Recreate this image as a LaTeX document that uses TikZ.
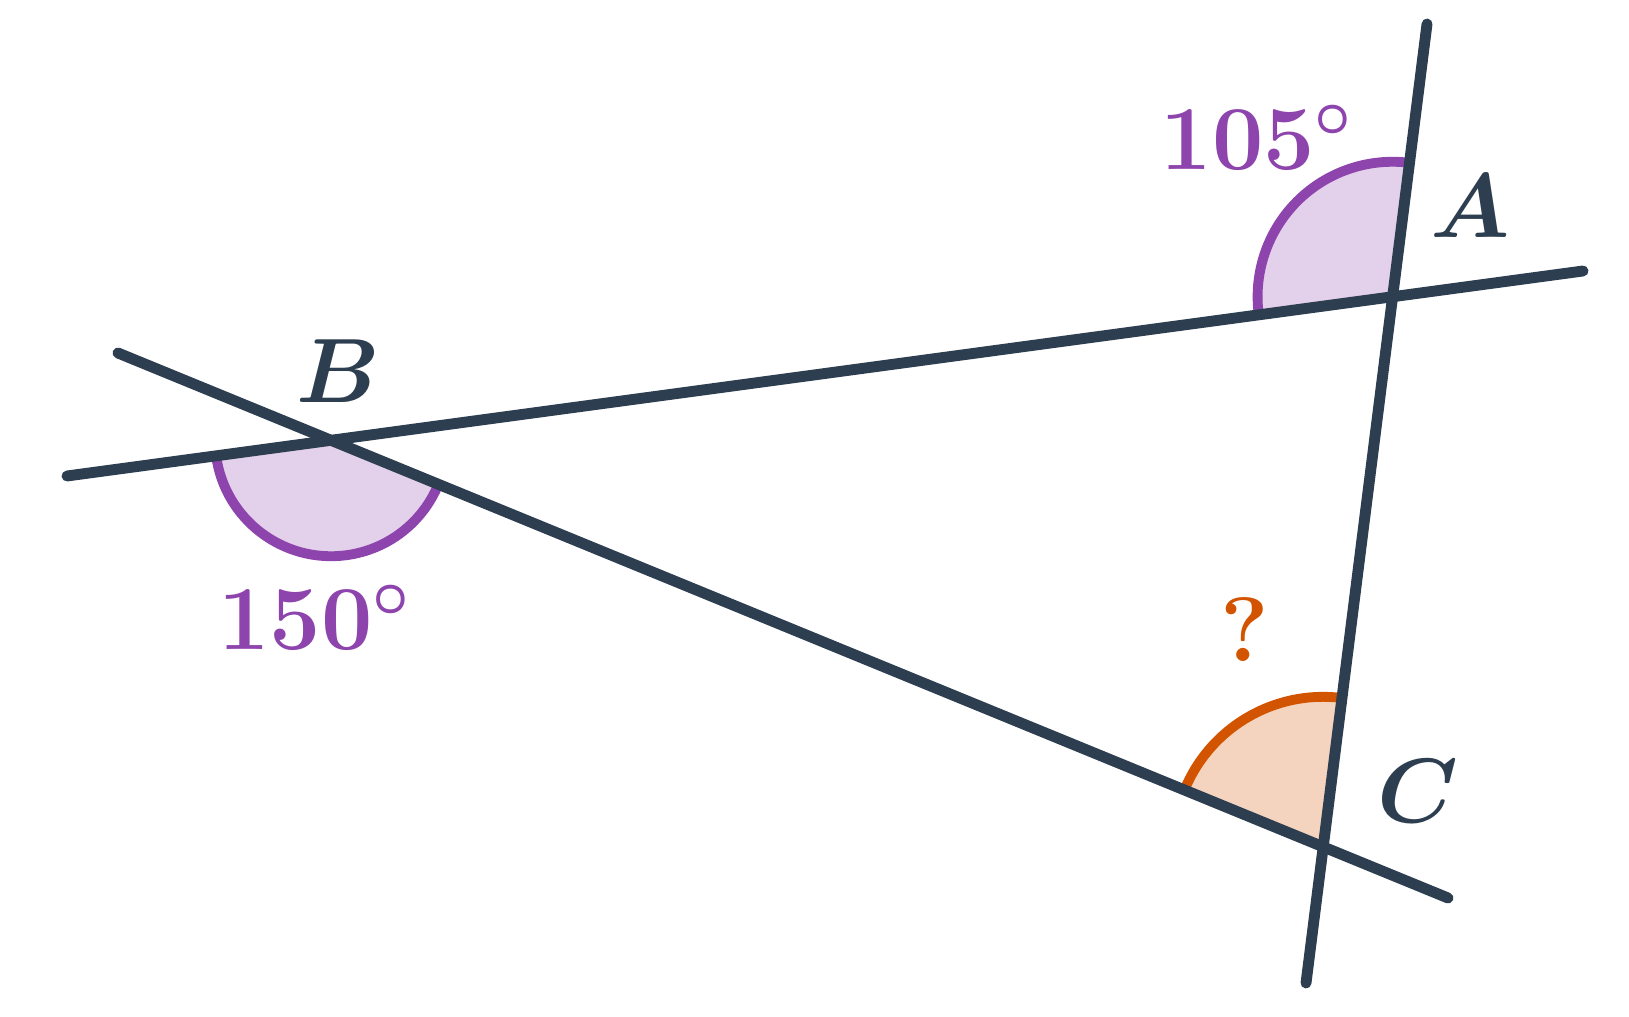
\RequirePackage{fix-cm}
\documentclass[tikz,border=0pt]{standalone}
\usepackage{xcolor}
\definecolor{lineDark}{HTML}{2C3E50}
\definecolor{anglePurple}{HTML}{8E44AD}
\definecolor{angleOrange}{HTML}{D35400}
\usepackage{tikz}
\usetikzlibrary{angles}
\tikzset{%
  mainLine/.style={%
    line width=3.1pt,
    line cap=round,
    color=lineDark
  },
  givenAngle/.style={%
    draw=anglePurple,
    fill=anglePurple!25,
    line width=2.8pt
  },
  askedAngle/.style={%
    draw=angleOrange,
    fill=angleOrange!25,
    line width=2.8pt
  },
  pointLabel/.style={%
    text=lineDark,
    inner sep=0pt
  },
  angleLabel/.style={%
    text=anglePurple,
    inner sep=0pt
  }
}

\begin{document}
\begin{tikzpicture}[font=\fontsize{26}{31}\selectfont\bfseries\boldmath]
  \useasboundingbox (0,0) rectangle (16.29,10.16);

  % ends of the three lines
  \coordinate (oneLeft) at (0.67,5.40);
  \coordinate (oneRight) at (15.83,7.45);
  \coordinate (twoLeft) at (1.18,6.63);
  \coordinate (twoRight) at (14.48,1.18);
  \coordinate (threeTop) at (14.27,9.92);
  \coordinate (threeBottom) at (13.06,0.33);

  % vertices
  \coordinate (A) at (intersection of oneLeft--oneRight and threeTop--threeBottom);
  \coordinate (B) at (intersection of oneLeft--oneRight and twoLeft--twoRight);
  \coordinate (C) at (intersection of twoLeft--twoRight and threeTop--threeBottom);

  \pic[givenAngle, angle radius=1.35cm] {angle = threeTop--A--B};
  \pic[givenAngle, angle radius=1.16cm] {angle = oneLeft--B--C};
  \pic[askedAngle, angle radius=1.50cm] {angle = A--C--B};

  \draw[mainLine] (oneLeft) -- (oneRight);
  \draw[mainLine] (twoLeft) -- (twoRight);
  \draw[mainLine] (threeTop) -- (threeBottom);

  \node[pointLabel] (labelA) at (14.70,8.10) {$A$};
  \node[pointLabel] (labelB) at (3.38,6.45) {$B$};
  \node[pointLabel] (labelC) at (14.18,2.25) {$C$};
  \node[angleLabel] (angleA) at (12.57,8.79) {$\mathbf{105}^{\circ}$};
  \node[angleLabel] (angleB) at (3.15,3.99) {$\mathbf{150}^{\circ}$};
  \node[angleLabel, text=angleOrange] (angleC) at (12.45,3.86) {?};
\end{tikzpicture}
\end{document}
